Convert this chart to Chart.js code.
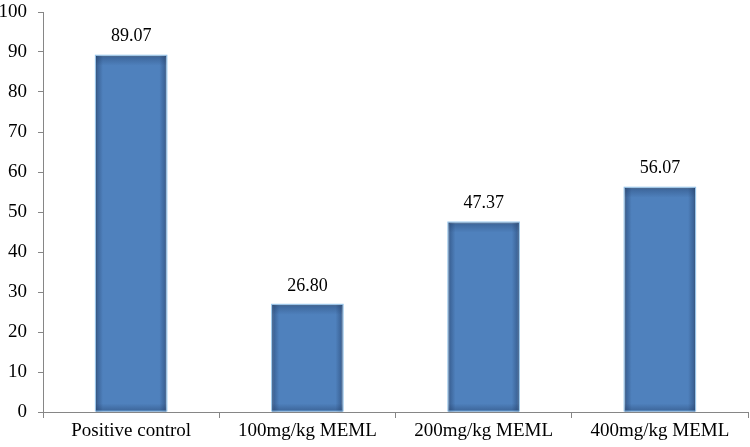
<!DOCTYPE html>
<html>
<head>
<meta charset="utf-8">
<script src="https://cdn.jsdelivr.net/npm/chart.js@4"></script>
<style>
  html, body { margin: 0; padding: 0; background: #fff; }
  #wrap { width: 750px; height: 447px; }
</style>
</head>
<body>
<div id="wrap"><canvas id="chart" width="750" height="447"></canvas></div>
<script>
const categories = ['Positive control', '100mg/kg MEML', '200mg/kg MEML', '400mg/kg MEML'];
const values = [89.07, 26.80, 47.37, 56.07];
const valueLabels = ['89.07', '26.80', '47.37', '56.07'];
const yTicks = [0, 10, 20, 30, 40, 50, 60, 70, 80, 90, 100];

const ctx = document.querySelector('#chart').getContext('2d');
const serif = "'Liberation Serif', 'DejaVu Serif', serif";
const axisGray = '#868686';

// soft dark edges on each bar, like the old office 3D-ish fill
const barShade = {
    id: 'barShade',
    afterDatasetsDraw(chart) {
        const c = chart.ctx;
        const meta = chart.getDatasetMeta(0);
        meta.data.forEach((bar) => {
            const left = bar.x - bar.width / 2;
            const right = bar.x + bar.width / 2;
            const top = bar.y;
            const bottom = bar.base;
            const g = c.createLinearGradient(left, 0, right, 0);
            g.addColorStop(0, 'rgba(30,55,95,0.5)');
            g.addColorStop(0.1, 'rgba(30,55,95,0)');
            g.addColorStop(0.9, 'rgba(30,55,95,0)');
            g.addColorStop(1, 'rgba(30,55,95,0.5)');
            c.save();
            c.fillStyle = g;
            c.fillRect(left, top, right - left, bottom - top);
            const gv = c.createLinearGradient(0, top, 0, top + 10);
            gv.addColorStop(0, 'rgba(30,55,95,0.4)');
            gv.addColorStop(1, 'rgba(30,55,95,0)');
            c.fillStyle = gv;
            c.fillRect(left, top, right - left, 10);
            const gb = c.createLinearGradient(0, bottom - 8, 0, bottom);
            gb.addColorStop(0, 'rgba(30,55,95,0)');
            gb.addColorStop(1, 'rgba(30,55,95,0.4)');
            c.fillStyle = gb;
            c.fillRect(left, bottom - 8, right - left, 8);
            // thin light rim
            c.strokeStyle = 'rgba(120,180,230,0.8)';
            c.lineWidth = 1;
            c.strokeRect(left - 0.5, top - 0.5, right - left + 1, bottom - top);
            c.restore();
        });
    }
};

const valueLabelPlugin = {
    id: 'valueLabels',
    afterDatasetsDraw(chart) {
        const c = chart.ctx;
        const meta = chart.getDatasetMeta(0);
        c.save();
        c.font = '18px ' + serif;
        c.fillStyle = '#000';
        c.textAlign = 'center';
        c.textBaseline = 'middle';
        meta.data.forEach((bar, i) => {
            c.fillText(valueLabels[i], bar.x, bar.y - 19);
        });
        c.restore();
    }
};

new Chart(ctx, {
    type: 'bar',
    data: {
        labels: categories,
        datasets: [{
            data: values,
            backgroundColor: '#4F81BD',
            borderColor: '#3B6597',
            borderWidth: 1,
            barPercentage: 0.4,
            categoryPercentage: 1
        }]
    },
    options: {
        responsive: false,
        animation: false,
        layout: { padding: { top: 12, right: 2, left: 0, bottom: 0 } },
        plugins: {
            legend: { display: false },
            tooltip: { enabled: false }
        },
        scales: {
            x: {
                grid: {
                    display: true,
                    offset: true,
                    drawOnChartArea: false,
                    drawTicks: true,
                    tickLength: 6,
                    color: axisGray
                },
                border: { display: true, color: axisGray, width: 1 },
                ticks: {
                    font: { family: serif, size: 19 },
                    color: '#000',
                    padding: 2,
                    maxRotation: 0
                },
                afterFit(scale) { scale.height = 35; }
            },
            y: {
                min: 0,
                max: 100,
                afterBuildTicks(scale) { scale.ticks = yTicks.map(v => ({ value: v })); },
                grid: {
                    display: true,
                    drawOnChartArea: false,
                    drawTicks: true,
                    tickLength: 5,
                    color: axisGray
                },
                border: { display: true, color: axisGray, width: 1 },
                ticks: {
                    font: { family: serif, size: 19 },
                    color: '#000',
                    padding: 11
                },
                afterFit(scale) {
                    scale.width = 43;
                    scale.paddingTop = 0;
                    scale.paddingBottom = 0;
                }
            }
        }
    },
    plugins: [barShade, valueLabelPlugin]
});
</script>
</body>
</html>
